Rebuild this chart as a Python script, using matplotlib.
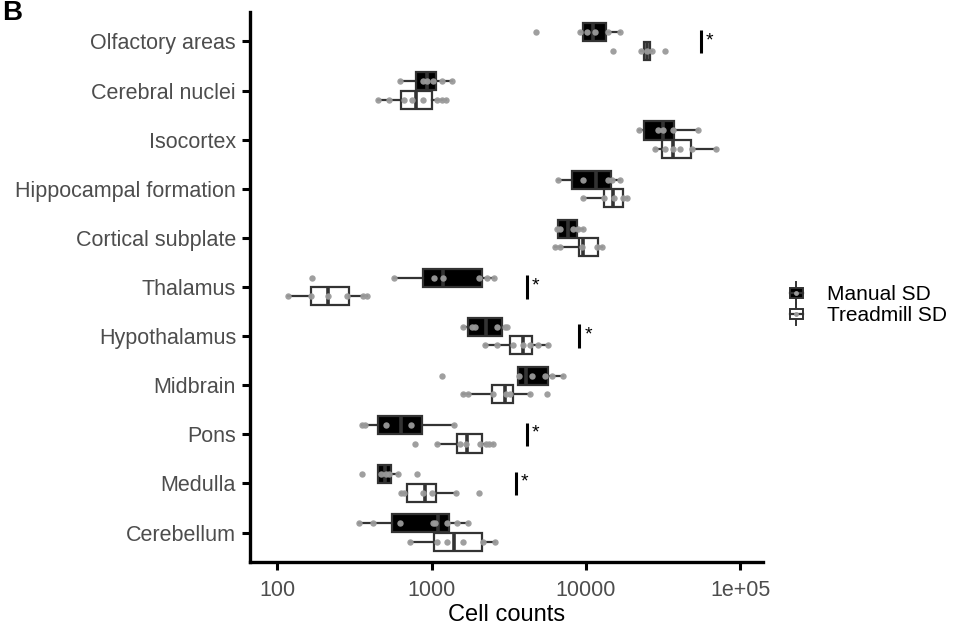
#!/usr/bin/env python3

import matplotlib
matplotlib.use("Agg")
import matplotlib.pyplot as plt
from matplotlib.legend_handler import HandlerBase
from matplotlib.patches import Rectangle
from matplotlib.lines import Line2D
from matplotlib.ticker import FixedLocator, NullLocator

plt.rcParams["font.family"] = ["Liberation Sans", "DejaVu Sans"]

regions = ["Olfactory areas", "Cerebral nuclei", "Isocortex", "Hippocampal formation",
           "Cortical subplate", "Thalamus", "Hypothalamus", "Midbrain", "Pons",
           "Medulla", "Cerebellum"]

# box stats: (whisker low, q1, median, q3, whisker high)
manual_stats = [
    (9150, 9620, 11100, 13460, 16600),
    (625, 794, 931, 1064, 1352),
    (22100, 23900, 31600, 37300, 53300),
    (6620, 8150, 11700, 14450, 16600),
    (6460, 6620, 7690, 8710, 9510),
    (572, 877, 1190, 2130, 2550),
    (1607, 1710, 2250, 2870, 3067),
    (3610, 3610, 4090, 5650, 7130),
    (353, 453, 631, 872, 1400),
    (453, 453, 502, 547, 604),
    (341, 552, 1107, 1297, 1730),
]
treadmill_stats = [
    (22600, 23700, 24700, 25900, 26600),
    (449, 631, 790, 1002, 1241),
    (27980, 31200, 36400, 47800, 69400),
    (9510, 13150, 15000, 17420, 18330),
    (6300, 9060, 9520, 12020, 12640),
    (118, 166, 213, 292, 380),
    (2220, 3220, 3930, 4450, 5650),
    (1607, 2450, 2990, 3360, 4345),
    (1081, 1470, 1690, 2110, 2490),
    (631, 690, 908, 1064, 1441),
    (726, 1042, 1400, 2110, 2577),
]

manual_points = [
    [4745, 9150, 10100, 11430, 13950, 16600],
    [625, 885, 931, 1018, 1164, 1352],
    [22130, 29380, 31600, 36730, 53300],
    [6620, 9510, 13950, 14660, 16600],
    [6460, 6790, 8280, 8910, 9510],
    [168, 572, 1043, 1193, 2040, 2276, 2550],
    [1607, 1820, 1913, 2642, 2990, 3067],
    [1175, 3700, 4450, 5430, 5995, 7130],
    [353, 371, 508, 736, 1400],
    [353, 469, 508, 533, 604, 802],
    [341, 420, 625, 1018, 1054, 1254, 1456, 1730],
]
treadmill_points = [
    [15030, 22600, 24700, 26600, 32450],
    [449, 533, 664, 751, 877, 1081, 1164, 1241],
    [27980, 32450, 36400, 40550, 48300, 69400],
    [9510, 13150, 15170, 17270, 18330],
    [6300, 6790, 9380, 11730, 12640],
    [118, 167, 213, 283, 362, 380],
    [2220, 2642, 3388, 3930, 4345, 4920, 5650],
    [1607, 1730, 2490, 3035, 3220, 4345, 5560],
    [782, 1081, 1529, 1673, 2060, 2254, 2340, 2490],
    [631, 664, 885, 1003, 1441, 2040],
    [726, 1081, 1266, 1607, 2163, 2577],
]

# significance marks: region -> x position of the bar
sig_regions = ["Olfactory areas", "Thalamus", "Hypothalamus", "Pons", "Medulla"]
sig_x = [55200, 4130, 9060, 4130, 3510]

EDGE = "#333333"
PT = "#9a9a9a"
TICK_TXT = "#4d4d4d"
DODGE = 0.1875
BOXW = 0.37


def make_stats(stats):
    out = []
    for lo, q1, med, q3, hi in stats:
        out.append(dict(whislo=lo, q1=q1, med=med, q3=q3, whishi=hi, fliers=[]))
    return out


fig = plt.figure(figsize=(9.59, 6.33), dpi=100)
ax = fig.add_axes([0.2607, 0.1122, 0.5349, 0.8688])

for stats, points, offset, fill in [(manual_stats, manual_points, -DODGE, "black"),
                                    (treadmill_stats, treadmill_points, DODGE, "white")]:
    pos = [i + offset for i in range(len(regions))]
    ax.bxp(make_stats(stats), positions=pos, widths=BOXW, orientation="horizontal",
           patch_artist=True, showcaps=False, showfliers=False,
           boxprops=dict(facecolor=fill, edgecolor=EDGE, linewidth=1.6),
           whiskerprops=dict(color=EDGE, linewidth=1.6),
           medianprops=dict(color=EDGE, linewidth=2.6))
    for i, pts in enumerate(points):
        ax.plot(pts, [i + offset] * len(pts), "o", color=PT, markersize=4.6,
                markeredgewidth=0, alpha=0.95, zorder=5)

for name, xv in zip(sig_regions, sig_x):
    i = regions.index(name)
    ax.plot([xv, xv], [i - 0.24, i + 0.24], color="black", linewidth=2.2,
            solid_capstyle="butt")
    ax.text(xv * 1.08, i - 0.02, "*", fontsize=14, ha="left", va="center")

ax.set_xscale("log")
ax.set_xlim(66.8, 140000)
ax.xaxis.set_major_locator(FixedLocator([100, 1000, 10000, 100000]))
ax.xaxis.set_minor_locator(NullLocator())
ax.set_xticklabels(["100", "1000", "10000", "1e+05"])
ax.set_ylim(len(regions) - 0.4, -0.6)
ax.set_yticks(range(len(regions)))
ax.set_yticklabels(regions)
ax.set_xlabel("Cell counts", fontsize=17, labelpad=2)

for s in ["top", "right"]:
    ax.spines[s].set_visible(False)
for s in ["left", "bottom"]:
    ax.spines[s].set_linewidth(2.4)
ax.tick_params(width=2.2, length=6, labelsize=15.5, labelcolor=TICK_TXT, color="black")
ax.tick_params(axis="x", pad=7)
ax.tick_params(axis="y", pad=4)


class BoxKey(HandlerBase):
    def __init__(self, fill):
        super().__init__()
        self.fill = fill

    def create_artists(self, legend, orig_handle, xdescent, ydescent, width, height,
                       fontsize, trans):
        cx = width / 2 - xdescent
        cy = height / 2 - ydescent
        bw, bh = width * 0.72, height * 0.6
        rect = Rectangle((cx - bw / 2, cy - bh / 2), bw, bh, facecolor=self.fill,
                         edgecolor=EDGE, linewidth=1.4, transform=trans)
        whisk = Line2D([cx, cx], [cy - height * 0.7, cy + height * 0.7], color=EDGE,
                       linewidth=1.4, transform=trans)
        med = Line2D([cx - bw / 2, cx + bw / 2], [cy, cy], color=EDGE, linewidth=1.6,
                     transform=trans)
        dot = Line2D([cx], [cy], marker="o", color=PT, markersize=3.5,
                     markeredgewidth=0, transform=trans)
        return [whisk, rect, med, dot]


h_manual = Rectangle((0, 0), 1, 1)
h_tread = Rectangle((0, 0), 1, 1)
fig.legend([h_manual, h_tread], ["Manual SD", "Treadmill SD"],
           handler_map={h_manual: BoxKey("black"), h_tread: BoxKey("white")},
           loc="center left", bbox_to_anchor=(0.812, 0.518), borderaxespad=0,
           frameon=False, fontsize=15, handlelength=0.9, handleheight=0.8,
           handletextpad=1.0, labelspacing=0.1)

fig.text(0.002, 1.0, "B", fontsize=20, fontweight="bold", ha="left", va="top")

fig.savefig("out.png", dpi=100)
